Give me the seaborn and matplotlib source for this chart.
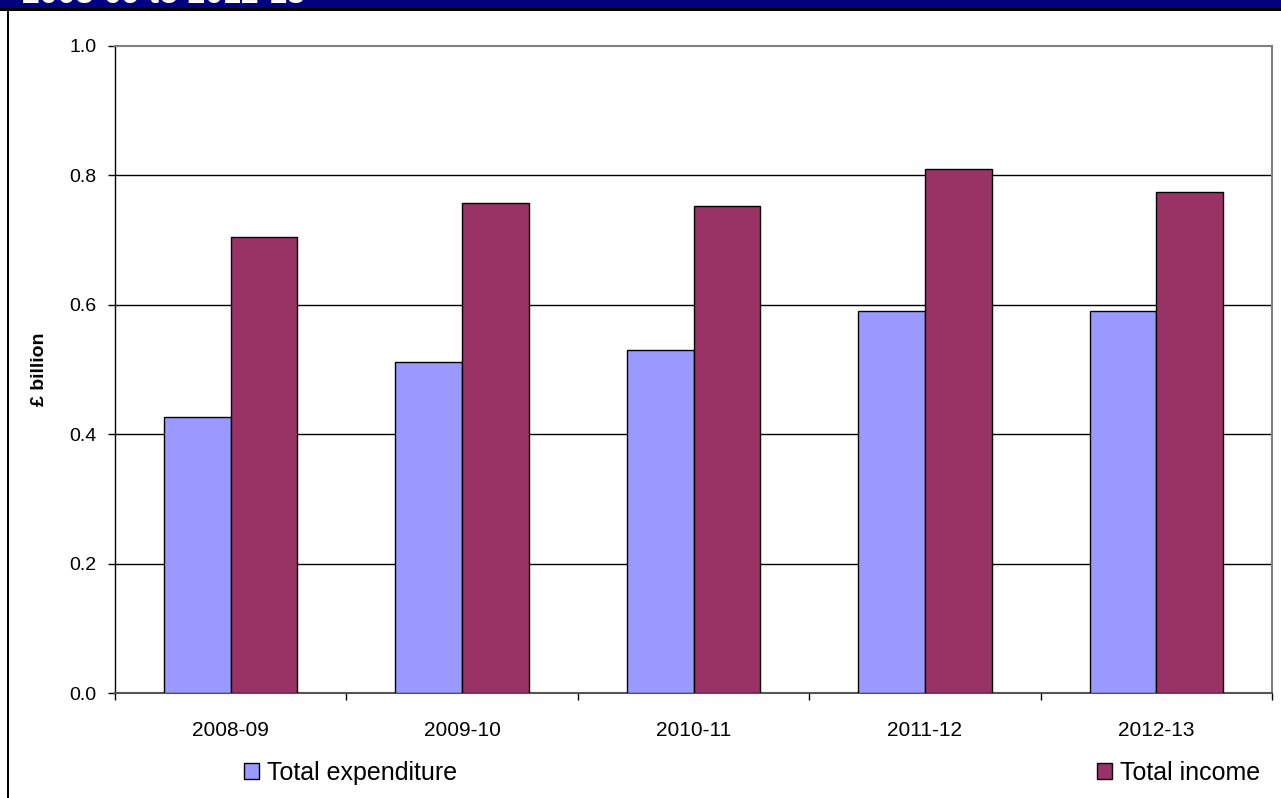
import matplotlib
matplotlib.use("Agg")
import matplotlib.pyplot as plt
from matplotlib.patches import Rectangle, Patch
import seaborn as sns
import pandas as pd

years = ["2008-09", "2009-10", "2010-11", "2011-12", "2012-13"]
total_expenditure = [0.427, 0.512, 0.530, 0.591, 0.591]
total_income = [0.705, 0.757, 0.752, 0.810, 0.774]
series_names = ["Total expenditure", "Total income"]
series_colors = ["#9999FF", "#993366"]
y_ticks = [0.0, 0.2, 0.4, 0.6, 0.8, 1.0]
title_text = "2008-09 to 2012-13"
y_label = "£ billion"

sns.set_theme(style="white")
plt.rcParams["font.family"] = ["Liberation Sans", "DejaVu Sans"]

df = pd.DataFrame({
    "year": years * 2,
    "value": total_expenditure + total_income,
    "series": [series_names[0]] * len(years) + [series_names[1]] * len(years),
})

W, H = 1281, 798
fig = plt.figure(figsize=(W / 100, H / 100), dpi=100)
fig.patch.set_facecolor("white")

# banner + frame
fig.add_artist(Rectangle((0, 1 - 8 / H), 1, 8 / H, transform=fig.transFigure,
                         facecolor="#000080", edgecolor="none", zorder=0))
fig.add_artist(Rectangle((0, 1 - 11 / H), 1, 3 / H, transform=fig.transFigure,
                         facecolor="black", edgecolor="none", zorder=0))
fig.add_artist(Rectangle((7 / W, 0), 2 / W, 1 - 11 / H, transform=fig.transFigure,
                         facecolor="black", edgecolor="none", zorder=0))
fig.text(22 / W, 1 - 3.0 / H, title_text, color="white", fontsize=23,
         fontweight="bold", ha="left", va="baseline")

ax = fig.add_axes([115 / W, (H - 693) / H, (1272 - 115) / W, 647 / H])
sns.barplot(data=df, x="year", y="value", hue="series", hue_order=series_names,
            palette=series_colors, width=0.577, edgecolor="black", linewidth=1,
            saturation=1, ax=ax, legend=False, zorder=3)

ax.set_ylim(0, 1.0)
ax.set_xlim(-0.5, len(years) - 0.5)
ax.set_yticks(y_ticks)
ax.set_yticklabels([f"{v:.1f}" for v in y_ticks])
ax.set_xticks(range(len(years)))
ax.set_xticklabels(years)
ax.set_xticks([i - 0.5 for i in range(len(years) + 1)], minor=True)
ax.tick_params(axis="y", which="major", direction="out", length=5, width=1,
               color="black", pad=8.5, labelsize=14, labelcolor="black", left=True)
ax.tick_params(axis="x", which="major", length=0, pad=20, labelsize=15,
               labelcolor="black")
ax.tick_params(axis="x", which="minor", direction="out", length=5, width=1,
               color="black", bottom=True)

for yv in y_ticks[1:-1]:
    ax.axhline(yv, color="black", lw=1, zorder=1)

ax.set_xlabel("")
ax.set_ylabel(y_label, fontsize=14, fontweight="bold", color="black", labelpad=0)
ax.yaxis.set_label_coords(-(115 - 48) / (1272 - 115), 0.5)

for side in ["top", "right"]:
    ax.spines[side].set_color("#808080")
    ax.spines[side].set_linewidth(1.5)
ax.spines["left"].set_color("black")
ax.spines["left"].set_linewidth(1)
ax.spines["bottom"].set_color("#555555")
ax.spines["bottom"].set_linewidth(1.5)
ax.grid(False)

positions = [244, 1097]
for name, color, xpos in zip(series_names, series_colors, positions):
    handle = Patch(facecolor=color, edgecolor="black", linewidth=1)
    leg = fig.legend([handle], [name], loc="center left",
                     bbox_to_anchor=(xpos / W, 1 - 773 / H),
                     frameon=False, fontsize=18, handlelength=0.6,
                     handleheight=0.6, handletextpad=0.32, borderpad=0,
                     borderaxespad=0)
    for t in leg.get_texts():
        t.set_color("black")

fig.savefig("out.png", dpi=100)
